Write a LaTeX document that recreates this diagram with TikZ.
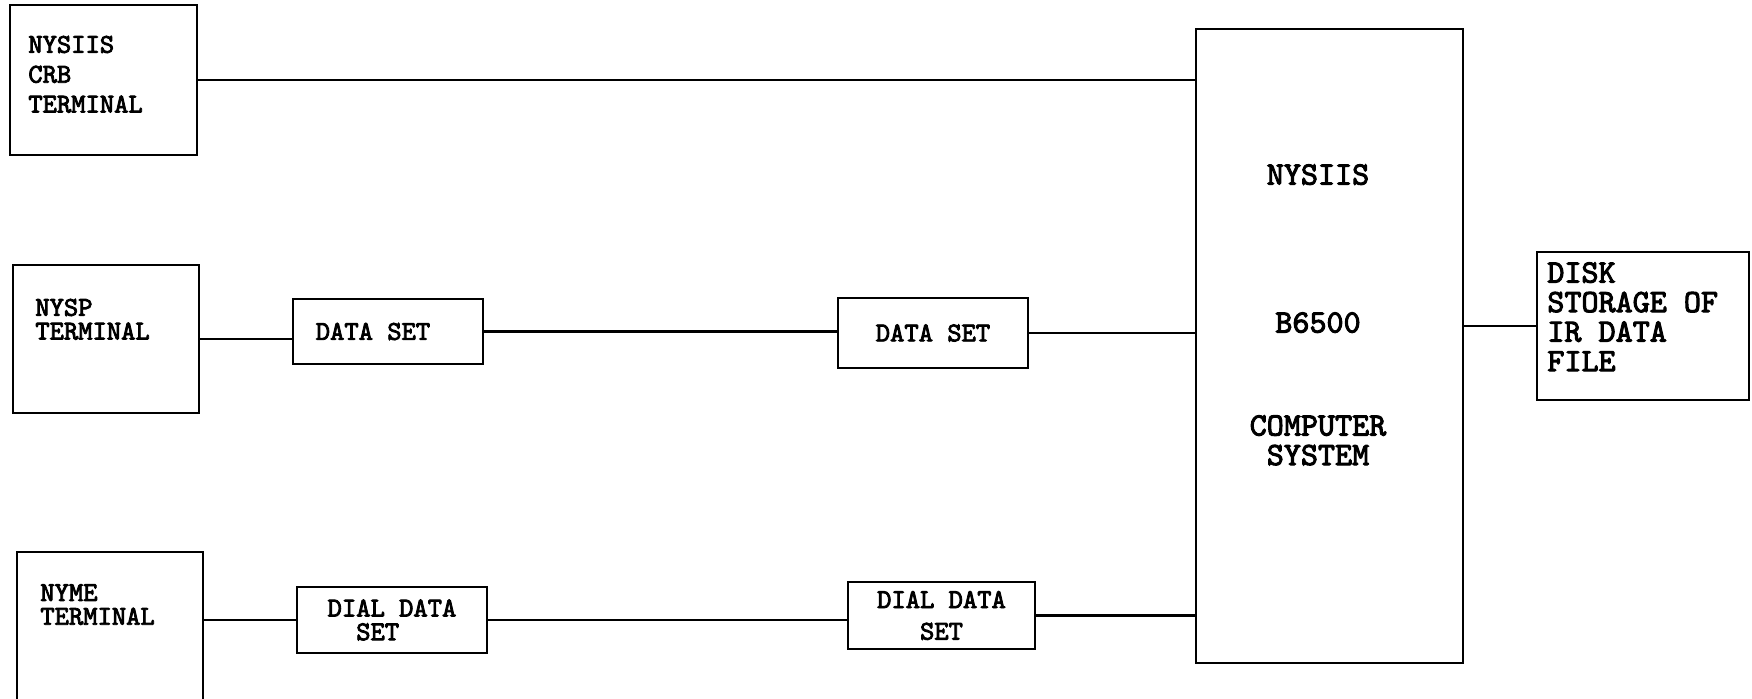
\documentclass[tikz,border=0pt]{standalone}
\usepackage{fontspec}
\setmonofont{lmmono10-regular.otf}[FakeBold=3]
\usepackage{tikz}
\usetikzlibrary{positioning, calc}
\newcommand{\twfont}[2]{\fontsize{#1}{#2}\ttfamily\selectfont}

\begin{document}
\begin{tikzpicture}[
    box/.style={draw, line width=1.3pt, inner sep=0pt},
    term/.style={box, minimum width=3.72cm, minimum height=2.96cm},
    dset/.style={box, minimum width=3.8cm, minimum height=1.32cm, align=center, font=\twfont{15.5pt}{17pt}},
    lbl/.style={anchor=north west, inner sep=0pt, align=left},
    link/.style={line width=1.3pt}
]
\useasboundingbox[fill=white] (0,0) rectangle (35.04,-13.98);

% Terminali
\node[term, minimum width=3.74cm, minimum height=3cm] (crb) at (2.07,-1.6) {};
\node[term] (nysp) at (2.12,-6.78) {};
\node[term, minimum height=3.56cm] (nyme) at (2.2,-12.82) {};

\node[lbl, font=\twfont{15.5pt}{17pt}] (crbtxt) at (0.56,-0.71) {NYSIIS\\CRB\\TERMINAL};
\node[lbl, font=\twfont{15.5pt}{13.5pt}] (nysptxt) at (0.7,-5.97) {NYSP\\TERMINAL};
\node[lbl, font=\twfont{15.5pt}{13.5pt}] (nymetxt) at (0.8,-11.68) {NYME\\TERMINAL};

% Data set
\node[dset, minimum height=1.3cm] (ds1) at (7.76,-6.63) {DATA SET\hspace*{0.6cm}};
\node[dset, minimum height=1.4cm] (ds2) at (18.66,-6.66) {DATA SET};
\node[dset, align=left, font=\twfont{15.5pt}{13.5pt}] (dd1) at (7.84,-12.4) {DIAL DATA\\\ \ SET};
\node[dset, minimum width=3.74cm, minimum height=1.34cm, font=\twfont{15.5pt}{18pt}] (dd2) at (18.83,-12.31) {DIAL DATA\\SET};

% Sistema centrale
\node[box, minimum width=5.34cm, minimum height=12.68cm] (sys) at (26.59,-6.92) {};
\node[anchor=north, inner sep=0pt, align=center, font=\twfont{18.5pt}{16.8pt}] (systxt) at (26.36,-3.28)
    {NYSIIS\\[67.4pt]B6500\\[41.8pt]COMPUTER\\SYSTEM};

\node[box, minimum width=4.24cm, minimum height=2.96cm] (disk) at (32.86,-6.52) {};
\node[lbl, font=\twfont{18.5pt}{16.8pt}] (disktxt) at (30.94,-5.24) {DISK\\STORAGE OF\\IR DATA\\FILE};

% Collegamenti
\draw[link] (crb.east) -- (crb.east -| sys.west);
\draw[link] (nysp.east) -- (nysp.east -| ds1.west);
\draw[link] (ds1.east) -- (ds1.east -| ds2.west);
\draw[link] (ds2.east) -- (ds2.east -| sys.west);
\draw[link] (dd1.west -| nyme.east) -- (dd1.west);
\draw[link] (dd1.east) -- (dd1.east -| dd2.west);
\draw[link] (dd2.east) -- (dd2.east -| sys.west);
\draw[link] (sys.east |- disk.west) -- (disk.west);

\end{tikzpicture}
\end{document}
